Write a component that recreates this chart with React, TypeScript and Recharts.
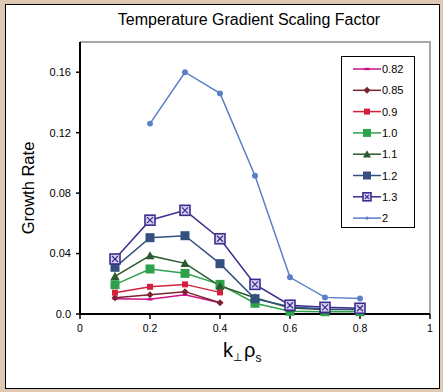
import { LineChart, Line, XAxis, YAxis } from "recharts";

const kValues = [0.1, 0.2, 0.3, 0.4, 0.5, 0.6, 0.7, 0.8];

const factors = ["0.82", "0.85", "0.9", "1.0", "1.1", "1.2", "1.3", "2"];

const rate082 = [0.0101, 0.0097, 0.0128, 0.0075, null, null, null, null];
const rate085 = [0.0108, 0.0128, 0.0148, 0.0075, null, null, null, null];
const rate09 = [0.0141, 0.018, 0.0196, 0.0143, null, null, null, null];
const rate10 = [0.0194, 0.0298, 0.0269, 0.0196, 0.0071, 0.0018, 0.0015, 0.0015];
const rate11 = [0.0249, 0.0386, 0.0335, 0.0185, 0.0108, 0.004, 0.003, 0.003];
const rate12 = [0.0309, 0.0505, 0.0518, 0.0333, 0.0101, 0.0048, 0.0032, 0.003];
const rate13 = [0.0364, 0.0621, 0.0686, 0.0498, 0.0196, 0.0058, 0.0044, 0.0038];
const rate2 = [null, 0.126, 0.16, 0.146, 0.0915, 0.0243, 0.011, 0.0103];

const allRates = [rate082, rate085, rate09, rate10, rate11, rate12, rate13, rate2];

const xTicks = [0, 0.2, 0.4, 0.6, 0.8, 1];
const yTicks = [0, 0.04, 0.08, 0.12, 0.16];

type Marker = "dash" | "diamond" | "square" | "triangle" | "xbox" | "circle";

const seriesStyle: { color: string; marker: Marker; size: number }[] = [
  { color: "#cc1088", marker: "dash", size: 3 },
  { color: "#7a2430", marker: "diamond", size: 7 },
  { color: "#d4203c", marker: "square", size: 6 },
  { color: "#2ea24b", marker: "square", size: 9 },
  { color: "#2a5a2e", marker: "triangle", size: 9 },
  { color: "#34507e", marker: "square", size: 9 },
  { color: "#3b2d8f", marker: "xbox", size: 10 },
  { color: "#5b80c8", marker: "circle", size: 7 },
];

const FONT = "'Liberation Sans', Arial, sans-serif";

const data = kValues.map((k, i) => {
  const row: Record<string, number | null> = { k };
  factors.forEach((f, j) => {
    row["s" + j] = allRates[j][i];
  });
  return row;
});

function MarkerShape({ cx, cy, color, marker, size }: { cx: number; cy: number; color: string; marker: Marker; size: number }) {
  const h = size / 2;
  if (marker === "dash") {
    return <rect x={cx - 2.5} y={cy - 1.2} width={5} height={2.4} fill={color} />;
  }
  if (marker === "diamond") {
    return <polygon points={`${cx},${cy - h} ${cx + h},${cy} ${cx},${cy + h} ${cx - h},${cy}`} fill={color} />;
  }
  if (marker === "square") {
    return <rect x={cx - h} y={cy - h} width={size} height={size} fill={color} />;
  }
  if (marker === "triangle") {
    return <polygon points={`${cx},${cy - h} ${cx + h},${cy + h * 0.8} ${cx - h},${cy + h * 0.8}`} fill={color} />;
  }
  if (marker === "xbox") {
    return (
      <g>
        <rect x={cx - h} y={cy - h} width={size} height={size} fill="#d8d4ee" stroke={color} strokeWidth={1.6} />
        <line x1={cx - h + 2} y1={cy - h + 2} x2={cx + h - 2} y2={cy + h - 2} stroke={color} strokeWidth={1.2} />
        <line x1={cx + h - 2} y1={cy - h + 2} x2={cx - h + 2} y2={cy + h - 2} stroke={color} strokeWidth={1.2} />
      </g>
    );
  }
  return <circle cx={cx} cy={cy} r={h * 0.85} fill={color} />;
}

function makeDot(j: number) {
  const st = seriesStyle[j];
  return (props: any) => {
    const { cx, cy, value, index } = props;
    if (value == null || cx == null || cy == null) return <g key={`d${j}-${index}`} />;
    return (
      <g key={`d${j}-${index}`}>
        <MarkerShape cx={cx} cy={cy} color={st.color} marker={st.marker} size={st.size} />
      </g>
    );
  };
}

function LegendBox() {
  return (
    <div
      style={{
        position: "absolute",
        left: 341,
        top: 56,
        width: 74,
        height: 172,
        border: "1px solid #000",
        background: "#fff",
        boxSizing: "border-box",
      }}
    >
      <svg width={74} height={172}>
        {factors.map((f, j) => {
          const st = seriesStyle[j];
          const y = 12 + j * 21.3;
          return (
            <g key={f}>
              <line x1={11} x2={39} y1={y} y2={y} stroke={st.color} strokeWidth={1.5} />
              <MarkerShape
                cx={25}
                cy={y}
                color={st.color}
                marker={st.marker}
                size={st.marker === "circle" ? 4 : Math.min(st.size, 8)}
              />
              <text x={40} y={y + 4} fontSize={11} fontFamily={FONT} fill="#000">
                {f}
              </text>
            </g>
          );
        })}
      </svg>
    </div>
  );
}

export default function App() {
  return (
    <div style={{ position: "fixed", left: 0, top: 0, width: 443, height: 392, background: "#dfc8b3" }}>
      <div
        style={{
          position: "absolute",
          left: 5,
          top: 4,
          width: 435,
          height: 385,
          background: "#fff",
          border: "1px solid #000",
          boxSizing: "border-box",
        }}
      />
      <div
        style={{
          position: "absolute",
          left: 80,
          top: 41,
          width: 351,
          height: 273,
          borderTop: "2px solid #a6a6a6",
          borderRight: "2px solid #a6a6a6",
          boxSizing: "border-box",
        }}
      />
      <div style={{ position: "absolute", left: 0, top: 0 }}>
        <LineChart width={443} height={392} data={data} margin={{ top: 42, right: 13, bottom: 48, left: 40 }}>
          <XAxis
            dataKey="k"
            type="number"
            domain={[0, 1]}
            ticks={xTicks}
            tickFormatter={(v: number) => String(v)}
            height={30}
            tickSize={5}
            tickMargin={6}
            axisLine={{ stroke: "#000", strokeWidth: 2 }}
            tickLine={{ stroke: "#000", strokeWidth: 1.5 }}
            tick={{ fontSize: 10.5, fill: "#000", fontFamily: FONT }}
          />
          <YAxis
            type="number"
            domain={[0, 0.18]}
            ticks={yTicks}
            tickFormatter={(v: number) => (v === 0 ? "0.0" : String(v))}
            width={40}
            tickSize={4}
            tickMargin={5}
            axisLine={{ stroke: "#000", strokeWidth: 2 }}
            tickLine={{ stroke: "#000", strokeWidth: 1.5 }}
            tick={{ fontSize: 11, fill: "#000", fontFamily: FONT }}
          />
          {factors.map((f, j) => (
            <Line
              key={f}
              dataKey={"s" + j}
              name={f}
              stroke={seriesStyle[j].color}
              strokeWidth={1.5}
              dot={makeDot(j)}
              activeDot={false}
              isAnimationActive={false}
            />
          ))}
        </LineChart>
      </div>
      <svg width={443} height={392} style={{ position: "absolute", left: 0, top: 0, pointerEvents: "none" }}>
        <text x={249} y={25} textAnchor="middle" fontSize={16} fontFamily={FONT} fill="#000">
          Temperature Gradient Scaling Factor
        </text>
        <text
          x={0}
          y={0}
          transform="translate(34,188) rotate(-90)"
          textAnchor="middle"
          fontSize={16.5}
          fontFamily={FONT}
          fill="#000"
        >
          Growth Rate
        </text>
        <text x={223} y={357} fontSize={20} fontFamily={FONT} fill="#000">
          k
          <tspan fontSize={11} dy={4}>⊥</tspan>
          <tspan fontSize={20} dy={-4} dx={1}>ρ</tspan>
          <tspan fontSize={12} dy={5}>s</tspan>
        </text>
      </svg>
      <LegendBox />
    </div>
  );
}
